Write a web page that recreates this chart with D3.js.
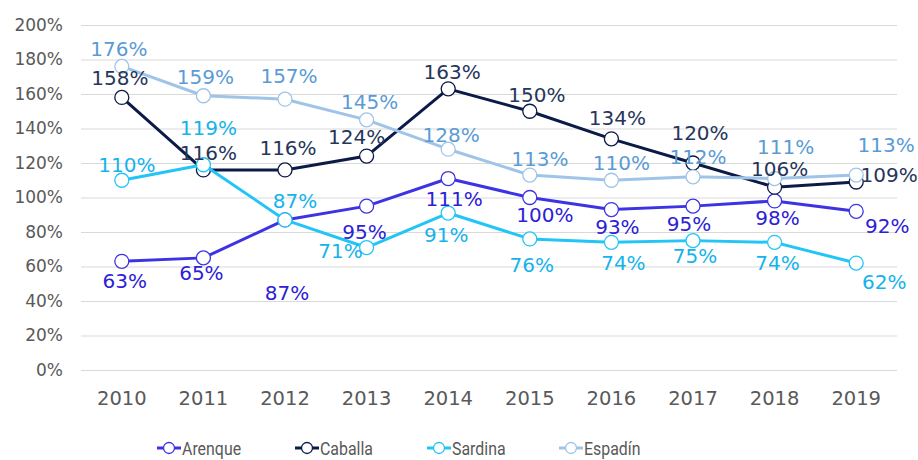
<!DOCTYPE html>
<html>
<head>
<meta charset="utf-8">
<script src="https://cdn.jsdelivr.net/npm/d3@7"></script>
<style>
  body { margin: 0; background: #fff; }
  text { font-family: "DejaVu Sans", sans-serif; }
</style>
</head>
<body>
<div id="chart"></div>
<script>
// Chart data.
let years = ["2010", "2011", "2012", "2013", "2014", "2015", "2016", "2017", "2018", "2019"];
let arenque = [63, 65, 87, 95, 111, 100, 93, 95, 98, 92];
let caballa = [158, 116, 116, 124, 163, 150, 134, 120, 106, 109];
let sardina = [110, 119, 87, 71, 91, 76, 74, 75, 74, 62];
let espadin = [176, 159, 157, 145, 128, 113, 110, 112, 111, 113];
let yTicks = [0, 20, 40, 60, 80, 100, 120, 140, 160, 180, 200];

// Label offsets (px from the point), one pair per year.
let arenqueLab = [[3,19],[-2,15],[2,73],[-2,26],[6,20],[15,17],[6,17],[-4,18],[3,17],[31,14]];
let caballaLab = [[-2,-20],[5,-17],[3,-22],[-10,-19],[4,-17],[7,-16],[6,-21],[7,-30],[5,-18],[33,-7]];
let sardinaLab = [[5,-15],[5,-37],[10,-19],[-26,3],[-2,22],[2,26],[12,20],[2,15],[3,20],[28,19]];
let espadinLab = [[-3,-18],[2,-19],[4,-23],[3,-18],[3,-14],[10,-16],[10,-17],[5,-20],[11,-32],[30,-30]];

let series = [
  {name: "Arenque", values: arenque, labs: arenqueLab, line: "#3d33e3", text: "#2c21d6"},
  {name: "Caballa", values: caballa, labs: caballaLab, line: "#0b1a47", text: "#26365a"},
  {name: "Sardina", values: sardina, labs: sardinaLab, line: "#22c5f6", text: "#14b3ec"},
  {name: "Espadín", values: espadin, labs: espadinLab, line: "#9fc4e8", text: "#5b9bd5"}
];

let W = 918, H = 460;
let margin = {top: 25, right: 21, bottom: 90, left: 81};

let svg = d3.select("#chart").append("svg")
  .attr("width", W).attr("height", H);

let x = d3.scaleBand()
  .domain(years)
  .range([margin.left, W - margin.right]);

let y = d3.scaleLinear()
  .domain([0, 200])
  .range([H - margin.bottom, margin.top]);

// Gridlines.
svg.append("g")
  .selectAll("line")
  .data(yTicks)
  .enter()
  .append("line")
  .attr("x1", margin.left)
  .attr("x2", W - margin.right)
  .attr("y1", d => y(d) + 0.5)
  .attr("y2", d => y(d) + 0.5)
  .attr("stroke", "#d9d9d9")
  .attr("stroke-width", 1);

// Y axis labels.
let yAxis = svg.append("g")
  .attr("transform", "translate(" + (margin.left - 18) + ",0)")
  .call(d3.axisLeft(y).tickValues(yTicks).tickSize(0).tickFormat(d => d + "%"));
yAxis.select(".domain").remove();
yAxis.selectAll("text")
  .attr("x", 0)
  .attr("fill", "#595959")
  .style("font-size", "17px")
  .style("font-family", "DejaVu Sans");

// X axis labels.
let xAxis = svg.append("g")
  .attr("transform", "translate(0," + (H - margin.bottom) + ")")
  .call(d3.axisBottom(x).tickSize(0));
xAxis.select(".domain").remove();
xAxis.selectAll("text")
  .attr("y", 21)
  .attr("fill", "#595959")
  .style("font-size", "19.5px")
  .style("font-family", "DejaVu Sans");

let cx = d => x(d) + x.bandwidth() / 2;

// Lines and markers.
series.forEach(function(s) {
  let pts = years.map((yr, i) => ({year: yr, value: s.values[i], lab: s.labs[i]}));

  svg.append("path")
    .datum(pts)
    .attr("fill", "none")
    .attr("stroke", s.line)
    .attr("stroke-width", 3)
    .attr("stroke-linejoin", "round")
    .attr("d", d3.line().x(d => cx(d.year)).y(d => y(d.value)));

  svg.append("g")
    .selectAll("circle")
    .data(pts)
    .enter()
    .append("circle")
    .attr("cx", d => cx(d.year))
    .attr("cy", d => y(d.value))
    .attr("r", 7)
    .attr("fill", "#fff")
    .attr("stroke", s.line)
    .attr("stroke-width", 1.3);
});

// Data labels on top.
series.forEach(function(s) {
  let pts = years.map((yr, i) => ({year: yr, value: s.values[i], lab: s.labs[i]}));
  svg.append("g")
    .selectAll("text")
    .data(pts)
    .enter()
    .append("text")
    .attr("x", d => cx(d.year) + d.lab[0])
    .attr("y", d => y(d.value) + d.lab[1])
    .attr("text-anchor", "middle")
    .attr("dy", "0.36em")
    .attr("fill", s.text)
    .style("font-size", "20px")
    .text(d => d.value + "%");
});

// Legend.
let legendX = [157, 295, 427, 559];
let legend = svg.append("g")
  .selectAll("g")
  .data(series)
  .enter()
  .append("g")
  .attr("transform", (d, i) => "translate(" + legendX[i] + "," + 448 + ")");

legend.append("line")
  .attr("x1", 0).attr("x2", 24)
  .attr("stroke", d => d.line)
  .attr("stroke-width", 3);

legend.append("circle")
  .attr("cx", 12).attr("r", 5.5)
  .attr("fill", "#fff")
  .attr("stroke", d => d.line)
  .attr("stroke-width", 1.3);

// Narrow legend text, as in the reference.
legend.append("text")
  .attr("transform", "translate(25,0) scale(0.86,1)")
  .attr("dy", "0.36em")
  .attr("fill", "#595959")
  .style("font-size", "18.5px")
  .style("font-family", "Roboto, sans-serif")
  .text(d => d.name);
</script>
</body>
</html>
